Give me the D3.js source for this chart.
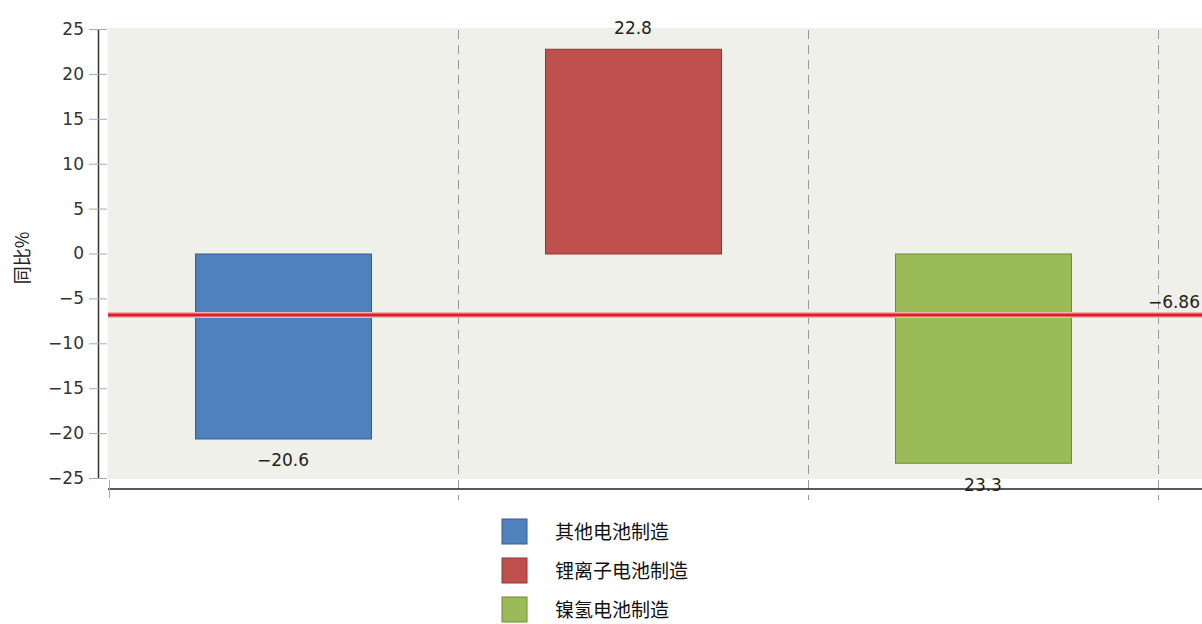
<!DOCTYPE html>
<html>
<head>
<meta charset="utf-8">
<script src="https://cdn.jsdelivr.net/npm/d3@7"></script>
<style>
  body { margin: 0; background: #fff; }
  text { font-family: "DejaVu Sans", "Noto Sans CJK SC", sans-serif; }
</style>
</head>
<body>
<div class="chart"></div>
<script>
// 資料
const categories = ['其他电池制造', '锂离子电池制造', '镍氢电池制造'];
const values = [-20.6, 22.8, -23.3];
const valueLabels = ['\u221220.6', '22.8', '23.3'];
const colors = ['#4f81bd', '#c0504d', '#9bbb59'];
const strokes = ['#385d8a', '#8c3836', '#71893f'];
const yTicks = [25, 20, 15, 10, 5, 0, -5, -10, -15, -20, -25];
const refValue = -6.86;

const svg_width = 1202;
const svg_height = 624;

const svg = d3.select('.chart').append('svg')
  .attr('width', svg_width).attr('height', svg_height);

const plotLeft = 108, plotRight = 1202;
const yScale = d3.scaleLinear().domain([-25, 25]).range([478, 29]);
const xScale = d3.scaleBand().domain(categories)
  .range([plotLeft, plotLeft + 350 * categories.length])
  .paddingInner(0).paddingOuter(0);

// background
svg.append('rect')
  .attr('x', plotLeft).attr('y', 28)
  .attr('width', plotRight - plotLeft).attr('height', 451)
  .style('fill', '#f0f0ea');

// dashed grid at band edges
const edges = categories.slice(1).map(c => xScale(c)).concat([xScale.range()[1]]);
svg.selectAll('.grid').data(edges).enter().append('line')
  .attr('x1', d => d + 0.5).attr('x2', d => d + 0.5)
  .attr('y1', 30).attr('y2', 500)
  .style('stroke', '#999').style('stroke-dasharray', '9,6');

// bars
const barW = 176;
svg.selectAll('.bar').data(values).enter().append('rect')
  .attr('class', 'bar')
  .attr('x', (d, i) => xScale(categories[i]) + xScale.bandwidth() / 2 - barW / 2 + 0.5)
  .attr('y', d => yScale(Math.max(0, d)) + 0.5)
  .attr('width', barW)
  .attr('height', d => Math.abs(yScale(d) - yScale(0)))
  .style('fill', (d, i) => colors[i])
  .style('stroke', (d, i) => strokes[i]);

// value labels
svg.selectAll('.vlabel').data(values).enter().append('text')
  .attr('x', (d, i) => xScale(categories[i]) + xScale.bandwidth() / 2)
  .attr('y', d => d >= 0 ? yScale(d) - 15 : yScale(d) + 28)
  .attr('text-anchor', 'middle')
  .style('font-size', '17px').style('fill', '#222')
  .text((d, i) => valueLabels[i]);

// reference line
svg.append('line')
  .attr('x1', plotLeft).attr('x2', plotRight)
  .attr('y1', yScale(refValue)).attr('y2', yScale(refValue))
  .style('stroke', '#f4b0b0').style('stroke-width', 6);
svg.append('line')
  .attr('x1', plotLeft).attr('x2', plotRight)
  .attr('y1', yScale(refValue)).attr('y2', yScale(refValue))
  .style('stroke', '#d8202a').style('stroke-width', 3);
svg.append('text')
  .attr('x', 1200).attr('y', yScale(refValue) - 7)
  .attr('text-anchor', 'end')
  .style('font-size', '17px').style('fill', '#222')
  .text('\u22126.86');

// y axis
const yAxis = d3.axisLeft(yScale).tickValues(yTicks).tickSize(0).tickPadding(14);
const yAxisDraw = svg.append('g')
  .attr('transform', 'translate(98,0)')
  .call(yAxis);
yAxisDraw.select('.domain').style('stroke', '#333').style('stroke-width', 1.5);
yAxisDraw.selectAll('text')
  .style('font-size', '17px').style('fill', '#333')
  .style('font-family', '"DejaVu Sans", sans-serif')
  .text(d => d < 0 ? '\u2212' + Math.abs(d) : d);
yAxisDraw.selectAll('.tick').append('line')
  .attr('x1', -9).attr('x2', 9)
  .style('stroke', '#aaa');

// x axis
svg.append('line')
  .attr('x1', plotLeft).attr('x2', plotRight)
  .attr('y1', 489).attr('y2', 489)
  .style('stroke', '#222').style('stroke-width', 1.5);
svg.append('line')
  .attr('x1', plotLeft + 1.5).attr('x2', plotLeft + 1.5)
  .attr('y1', 480).attr('y2', 498)
  .style('stroke', '#aaa');

// y label
svg.append('text')
  .attr('transform', 'translate(29,258) rotate(-90)')
  .attr('text-anchor', 'middle')
  .style('font-size', '18px').style('fill', '#222')
  .style('font-family', '"Noto Sans CJK SC", sans-serif')
  .text('同比%');

// legend
const legend = svg.selectAll('.legend').data(categories).enter().append('g')
  .attr('transform', (d, i) => `translate(502,${519 + i * 39})`);
legend.append('rect')
  .attr('width', 25).attr('height', 25)
  .style('fill', (d, i) => colors[i])
  .style('stroke', (d, i) => strokes[i]);
legend.append('text')
  .attr('x', 53).attr('y', 20)
  .style('font-size', '19px').style('fill', '#111')
  .style('font-family', '"Noto Sans CJK SC", sans-serif')
  .text(d => d);
</script>
</body>
</html>
